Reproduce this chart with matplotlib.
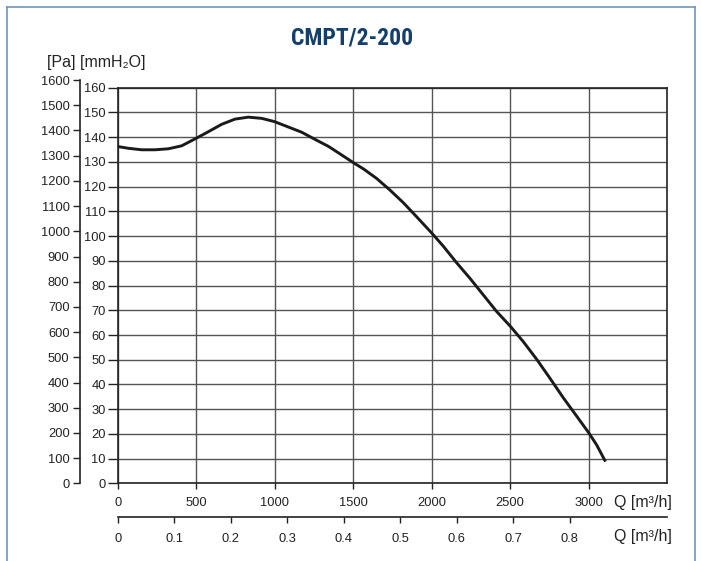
import matplotlib
matplotlib.use("Agg")
import matplotlib.pyplot as plt
from matplotlib.lines import Line2D

# ---- data ----
flow_m3h = [0, 66, 151, 236, 321, 406, 500, 576, 661, 746, 831, 916, 997,
            1086, 1171, 1256, 1341, 1426, 1505, 1564, 1649, 1734, 1819, 1904,
            2002, 2074, 2159, 2244, 2329, 2414, 2503, 2584, 2669, 2754, 2839,
            2924, 3003, 3052, 3108]
pressure_mmh2o = [136.2, 135.5, 134.9, 134.9, 135.3, 136.5, 139.6, 142.2,
                  145.2, 147.3, 148.1, 147.6, 146.3, 144.1, 142.0, 139.1,
                  136.3, 132.8, 129.5, 127.2, 123.3, 118.6, 113.5, 107.8,
                  101.1, 95.9, 89.2, 82.9, 76.2, 69.5, 63.4, 57.3, 50.2,
                  42.5, 34.6, 27.2, 20.3, 15.5, 8.8]
q_h_ticks = [0, 500, 1000, 1500, 2000, 2500, 3000]
q_s_ticks = [0, 0.1, 0.2, 0.3, 0.4, 0.5, 0.6, 0.7, 0.8]
q_s_labels = ["0", "0.1", "0.2", "0.3", "0.4", "0.5", "0.6", "0.7", "0.8"]
mm_ticks = list(range(0, 161, 10))
pa_ticks = list(range(0, 1601, 100))
title = "CMPT/2-200"

REG = ["Liberation Sans", "DejaVu Sans"]
COND = ["Roboto Condensed", "Liberation Sans Narrow", "Liberation Sans", "DejaVu Sans"]
plt.rcParams["font.family"] = REG

W, H = 701, 561
fig = plt.figure(figsize=(W / 100, H / 100), dpi=100)

y0 = 483.4
y160 = 87.7
x0, x1 = 118, 667
TC = "#222222"
LS = 9.3

ax = fig.add_axes([x0 / W, 1 - y0 / H, (x1 - x0) / W, (y0 - y160) / H])
ax.set_xlim(0, 3500)
ax.set_ylim(0, 160)
ax.set_xticks(q_h_ticks)
ax.set_xticklabels([str(t) for t in q_h_ticks])
ax.set_yticks(mm_ticks)
ax.grid(True, color="#555555", lw=1.0)
for s in ax.spines.values():
    s.set_color(TC)
    s.set_linewidth(1.2)
ax.tick_params(axis="y", direction="out", length=7.2, width=1, pad=1.5,
               labelsize=LS, color=TC, labelcolor=TC)
ax.tick_params(axis="x", direction="out", length=4.5, width=1, pad=5,
               labelsize=LS, color=TC, labelcolor=TC)
ax.plot(flow_m3h, pressure_mmh2o, color="#1a1a1a", lw=2.1,
        solid_capstyle="butt", solid_joinstyle="round", zorder=5)

# Pa axis
ypa = y0 - 1600 / 9.81 * ((y0 - y160) / 160)
axp = fig.add_axes([80 / W, 1 - y0 / H, 0.0001, (y0 - ypa) / H])
axp.set_ylim(0, 1600)
axp.set_yticks(pa_ticks)
axp.patch.set_visible(False)
for k in ["right", "top", "bottom"]:
    axp.spines[k].set_visible(False)
axp.spines["left"].set_color(TC)
axp.spines["left"].set_linewidth(1.2)
axp.xaxis.set_visible(False)
axp.tick_params(axis="y", direction="out", length=5, width=1, pad=2.5,
                labelsize=LS, color=TC, labelcolor=TC)

# m3/s axis
ys = 517
axs = fig.add_axes([x0 / W, 1 - ys / H, (x1 - x0) / W, 0.0001])
axs.set_xlim(0, 3500 / 3600)
axs.set_xticks(q_s_ticks)
axs.set_xticklabels(q_s_labels)
axs.patch.set_visible(False)
for k in ["left", "right", "top"]:
    axs.spines[k].set_visible(False)
axs.spines["bottom"].set_color(TC)
axs.spines["bottom"].set_linewidth(1.2)
axs.yaxis.set_visible(False)
axs.tick_params(axis="x", direction="out", length=4.5, width=1, pad=7,
                labelsize=LS, color=TC, labelcolor=TC)

# texts
fig.text(352 / W, 1 - 38 / H, title, ha="center", va="center", fontsize=17,
         fontweight="bold", color="#143f6b", family=COND)
fig.text(47 / W, 1 - 62 / H, "[Pa] [mmH\u2082O]", ha="left", va="center",
         fontsize=11.5, color=TC)
fig.text(672 / W, 1 - 503 / H, "Q [m\u00b3/h]", ha="right", va="center",
         fontsize=11.5, color=TC)
fig.text(672 / W, 1 - 536 / H, "Q [m\u00b3/h]", ha="right", va="center",
         fontsize=11.5, color=TC)

# frame
fc = "#6f95bd"
fig.add_artist(Line2D([7 / W, 7 / W], [0, 1 - 7 / H], color=fc, lw=1.2,
                      transform=fig.transFigure))
fig.add_artist(Line2D([7 / W, 695 / W], [1 - 7 / H, 1 - 7 / H], color=fc, lw=1.2,
                      transform=fig.transFigure))
fig.add_artist(Line2D([695 / W, 695 / W], [0, 1 - 7 / H], color=fc, lw=1.2,
                      transform=fig.transFigure))

fig.savefig("out.png", dpi=100)
